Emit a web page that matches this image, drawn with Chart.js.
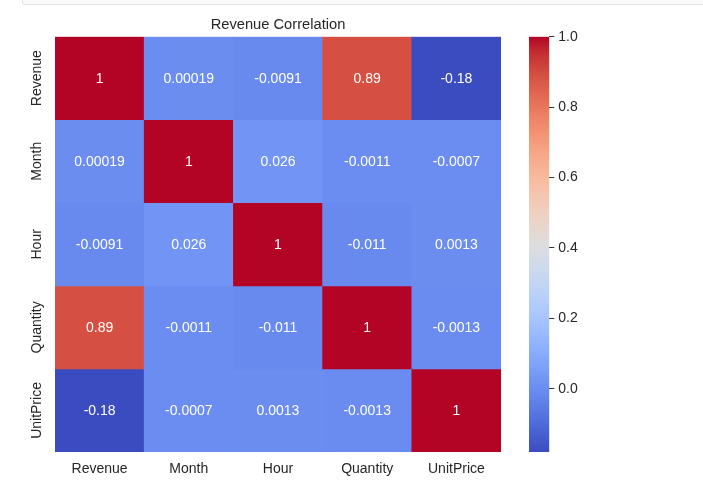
<!DOCTYPE html>
<html>
<head>
<meta charset="utf-8">
<script src="https://cdn.jsdelivr.net/npm/chart.js@4.4.1/dist/chart.umd.min.js"></script>
<style>
  html, body { margin: 0; padding: 0; background: #fff; }
  body { width: 703px; height: 493px; position: relative; overflow: hidden; font-family: "Liberation Sans", Arial, sans-serif; }
  .topbox { position: absolute; left: 22px; top: -12px; right: -6px; height: 15px; border: 1px solid #e2e2e2; background: #fafafa; border-radius: 3px; }
  #heatWrap { position: absolute; left: 0; top: 0; width: 546px; height: 493px; }
  #barWrap { position: absolute; left: 500px; top: 0; width: 100px; height: 493px; }
</style>
</head>
<body>
<div class="topbox"></div>
<div id="heatWrap"><canvas id="heat"></canvas></div>
<div id="barWrap"><canvas id="cbar"></canvas></div>
<script>
const variables = ['Revenue', 'Month', 'Hour', 'Quantity', 'UnitPrice'];
const revenueRow   = [1, 0.00019, -0.0091, 0.89, -0.18];
const monthRow     = [0.00019, 1, 0.026, -0.0011, -0.0007];
const hourRow      = [-0.0091, 0.026, 1, -0.011, 0.0013];
const quantityRow  = [0.89, -0.0011, -0.011, 1, -0.0013];
const unitPriceRow = [-0.18, -0.0007, 0.0013, -0.0013, 1];
const colorbarTicks = [0, 0.2, 0.4, 0.6, 0.8, 1.0];

const corr = [revenueRow, monthRow, hourRow, quantityRow, unitPriceRow];
const vmin = Math.min(...corr.flat());
const vmax = Math.max(...corr.flat());

const FONT = '"Liberation Sans", Arial, sans-serif';
const TEXT = '#262626';

// coolwarm (Moreland) control points
const coolwarm = [
  [59,76,192],[68,90,204],[77,104,215],[87,117,225],[98,130,234],[108,142,241],
  [119,154,247],[130,165,251],[141,176,254],[152,185,255],[163,194,255],[174,201,253],
  [184,208,249],[194,213,244],[204,217,238],[213,219,230],[221,221,221],[229,216,209],
  [236,211,197],[241,204,185],[245,196,173],[247,187,160],[247,177,148],[247,166,135],
  [244,154,123],[241,141,111],[236,127,99],[229,112,88],[222,96,77],[213,80,66],
  [203,62,56],[192,40,47],[180,4,38]
];
function cmap(t) {
  t = Math.max(0, Math.min(1, t));
  const p = t * (coolwarm.length - 1);
  const i = Math.min(coolwarm.length - 2, Math.floor(p));
  const f = p - i;
  const a = coolwarm[i], b = coolwarm[i + 1];
  const c = a.map((v, k) => Math.round(v + (b[k] - v) * f));
  return `rgb(${c[0]},${c[1]},${c[2]})`;
}
const norm = v => (v - vmin) / (vmax - vmin);

// like python's '.2g'
function fmt(v) {
  let s = v.toPrecision(2);
  if (s.includes('.') && !s.includes('e')) s = s.replace(/0+$/, '').replace(/\.$/, '');
  return s;
}

// measure widest row label so rotated y labels sit where seaborn puts them
const mctx = document.createElement('canvas').getContext('2d');
mctx.font = '14px ' + FONT;
const widest = Math.max(...variables.map(v => mctx.measureText(v).width));

const annotate = {
  id: 'annotate',
  afterDatasetsDraw(chart) {
    const ctx = chart.ctx;
    ctx.save();
    ctx.font = '14px ' + FONT;
    ctx.fillStyle = '#ffffff';
    ctx.textAlign = 'center';
    ctx.textBaseline = 'middle';
    chart.data.datasets.forEach((ds, r) => {
      chart.getDatasetMeta(r).data.forEach((el, c) => {
        const p = el.getCenterPoint();
        ctx.fillText(fmt(corr[r][c]), p.x, p.y + 1);
      });
    });
    ctx.restore();
  }
};

new Chart(document.getElementById('heat'), {
  type: 'bar',
  data: {
    labels: variables,
    datasets: variables.map((name, r) => ({
      label: name,
      data: variables.map(() => 1),
      backgroundColor: corr[r].map(v => cmap(norm(v))),
      borderWidth: 0,
      categoryPercentage: 1,
      barPercentage: 1
    }))
  },
  options: {
    responsive: true,
    maintainAspectRatio: false,
    animation: false,
    layout: { padding: { left: 0, right: 45, top: 0, bottom: 0 } },
    plugins: {
      legend: { display: false },
      tooltip: { enabled: false },
      title: {
        display: true,
        fullSize: false, // centre over the cells, like matplotlib
        text: 'Revenue Correlation',
        color: TEXT,
        font: { family: FONT, size: 14.7, weight: 'normal' },
        padding: { top: 16, bottom: 3 }
      }
    },
    scales: {
      x: {
        stacked: true,
        grid: { display: false, drawTicks: false },
        border: { display: false },
        ticks: { color: TEXT, font: { family: FONT, size: 14 }, padding: 9, maxRotation: 0 },
        afterFit(s) { s.height = 41; }
      },
      y: {
        stacked: true,
        min: 0,
        max: variables.length,
        reverse: true,
        grid: { display: false, drawTicks: false },
        border: { display: false },
        afterBuildTicks(s) { s.ticks = variables.map((_, i) => ({ value: i + 0.5 })); },
        ticks: {
          color: TEXT,
          font: { family: FONT, size: 14 },
          minRotation: 90,
          maxRotation: 90,
          crossAlign: 'center',
          padding: 18 - widest / 2,
          callback: (v, i) => variables[i]
        },
        afterFit(s) { s.width = 55; }
      }
    }
  },
  plugins: [annotate]
});

new Chart(document.getElementById('cbar'), {
  type: 'bar',
  data: {
    labels: [''],
    datasets: [{
      data: [[vmin, vmax]],
      borderWidth: 0,
      categoryPercentage: 1,
      barPercentage: 1,
      backgroundColor(c) {
        const chart = c.chart;
        if (!chart.chartArea) return cmap(0.5);
        const y = chart.scales.y;
        const g = chart.ctx.createLinearGradient(0, y.getPixelForValue(vmin), 0, y.getPixelForValue(vmax));
        coolwarm.forEach((_, i) => {
          const t = i / (coolwarm.length - 1);
          g.addColorStop(t, cmap(t));
        });
        return g;
      }
    }]
  },
  options: {
    responsive: true,
    maintainAspectRatio: false,
    animation: false,
    layout: { padding: { left: 29, right: 0, top: 36.7, bottom: 41 } },
    plugins: { legend: { display: false }, tooltip: { enabled: false } },
    scales: {
      x: { display: false },
      y: {
        position: 'right',
        min: vmin,
        max: vmax,
        grid: { drawOnChartArea: false, drawTicks: true, tickLength: 5, tickColor: '#333', lineWidth: 1 },
        border: { display: false },
        afterBuildTicks(s) { s.ticks = colorbarTicks.map(v => ({ value: v })); },
        ticks: {
          color: TEXT,
          font: { family: FONT, size: 14 },
          padding: 4,
          callback: v => Number(v).toFixed(1)
        },
        afterFit(s) { s.width = 100 - 29 - 20.3; }
      }
    }
  }
});
</script>
</body>
</html>
